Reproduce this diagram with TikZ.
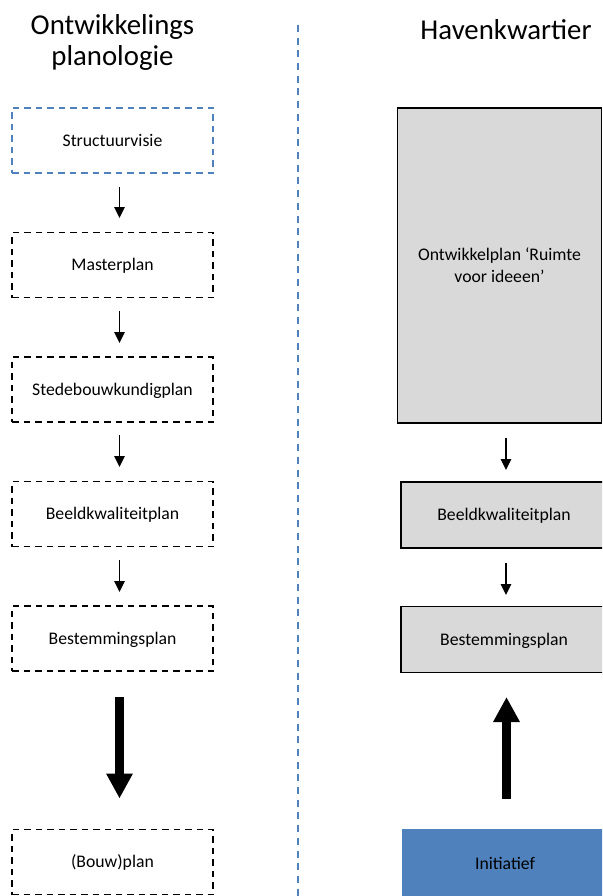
\documentclass[tikz,border=0pt]{standalone}
\usepackage{fontspec}
\setmainfont{Carlito}
\usetikzlibrary{arrows.meta}

\definecolor{accentblue}{HTML}{4F81BD}
\definecolor{boxgray}{HTML}{D9D9D9}

\tikzset{
  title/.style={font=\fontsize{28.8}{30}\selectfont, inner sep=0pt, anchor=base},
  plan/.style={minimum width=201pt, minimum height=65pt, inner sep=0pt,
    font=\fontsize{17.7}{22}\selectfont, text height=11.4pt, text depth=0pt},
  dashedplan/.style={plan, draw=black, line width=1.6pt,
    dash pattern=on 6.5pt off 5pt},
  filledplan/.style={plan, draw=black, fill=boxgray, line width=1.6pt},
  flowarrow/.style={-{Triangle[length=11pt,width=10.5pt]}, line width=1.5pt,
    shorten <=13pt, shorten >=14pt},
  blockarrow/.style={-{Triangle[length=25pt,width=25pt]}, line width=8.5pt}
}

\begin{document}
\begin{tikzpicture}[x=1pt, y=-1pt]
  \useasboundingbox (0,0) rectangle (602,896);
  \clip (0,0) rectangle (602,896);

  % column headings
  \node[title] (tleft1) at (112.5,35) {Ontwikkelings};
  \node[title] (tleft2) at (112.5,66) {planologie};
  \node[title] (tright) at (506,40) {Havenkwartier};

  % column separator
  \coordinate (septop) at (298,25);
  \coordinate (sepbot) at (298,896);
  \draw[accentblue, line width=2pt, dash pattern=on 7pt off 5.7pt] (septop) -- (sepbot);

  % left column: planning chain
  \node[dashedplan, draw=accentblue] (sv) at (112.5,140.5) {Structuurvisie};
  \node[dashedplan] (mp) at (112.5,265) {Masterplan};
  \node[dashedplan] (sb) at (112.5,389.5) {Stedebouwkundigplan};
  \node[dashedplan] (bk) at (112.5,514) {Beeldkwaliteitplan};
  \node[dashedplan] (bp) at (112.5,638.5) {Bestemmingsplan};
  \node[dashedplan] (bw) at (112.5,862) {(Bouw)plan};

  \draw[flowarrow] (119.5,174) -- (119.5,232);
  \draw[flowarrow] (119.5,298) -- (119.5,357);
  \draw[flowarrow] (119.5,422) -- (119.5,481);
  \draw[flowarrow] (119.5,547) -- (119.5,606);

  % right column
  \node[filledplan, minimum width=204pt, minimum height=315pt] (op) at (499.5,265.5) {};
  \node[font=\fontsize{17.7}{22}\selectfont, align=center, inner sep=0pt] (optext) at (op.center)
    {Ontwikkelplan ‘Ruimte\\voor ideeen’};
  \node[filledplan, minimum width=206pt, minimum height=66pt] (rbk) at (504,515) {Beeldkwaliteitplan};
  \node[filledplan, minimum width=206pt, minimum height=66pt] (rbp) at (504,639.5) {Bestemmingsplan};
  \node[plan, fill=accentblue, minimum width=206pt, minimum height=70pt] (ini) at (505,864) {Initiatief};

  \draw[flowarrow, shorten <=15pt, shorten >=12pt] (506,423) -- (506,482);
  \draw[flowarrow, shorten <=15pt, shorten >=11pt] (506,548) -- (506,606);

  % heavy arrows
  \draw[blockarrow] (119.5,697) -- (119.5,798.5);
  \draw[blockarrow] (506.5,798.5) -- (506.5,697);
\end{tikzpicture}
\end{document}
